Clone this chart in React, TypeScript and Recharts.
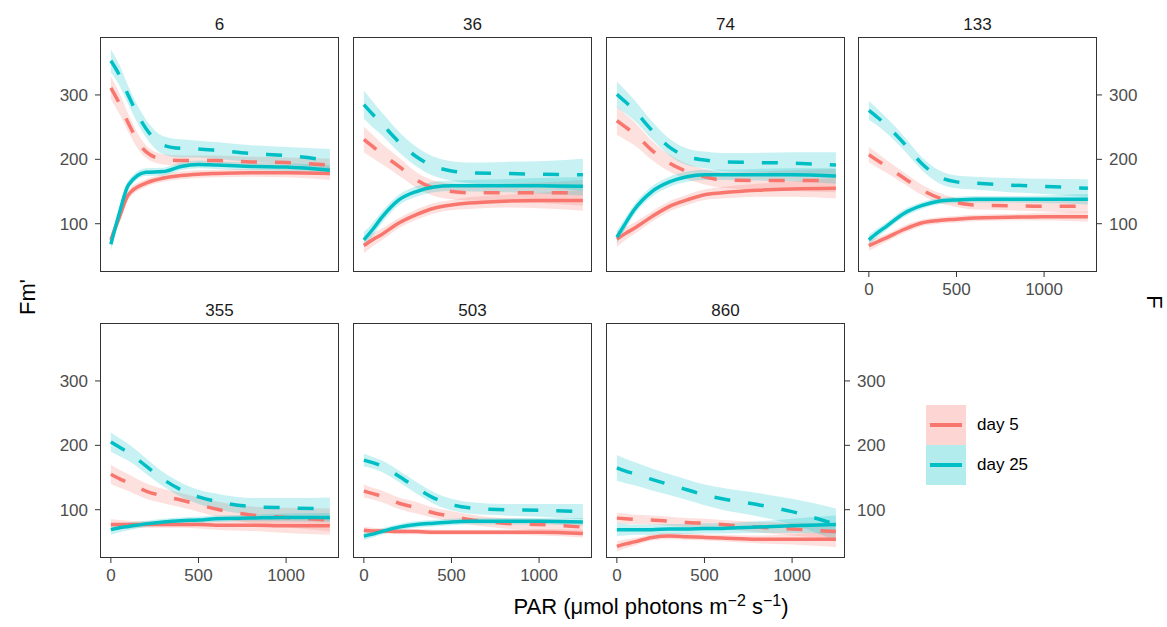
import { ComposedChart, Area, Line, XAxis, YAxis } from "recharts";

// PAR grid the smooths are read at
const PAR = [0, 50, 100, 200, 300, 400, 500, 600, 800, 1000, 1250];
const LIGHT = ["6", "36", "74", "133", "355", "503", "860"];
const X_TICKS = [0, 500, 1000];
const Y_TICKS = [100, 200, 300];

// dashed lines: Fm'
const fmDay5 = [
  [311, 286, 256, 212, 200, 198, 198, 198, 196, 195, 191],
  [231, 220, 209, 189, 168, 155, 150, 148, 148, 148, 148],
  [260, 250, 240, 214, 194, 181, 173, 168, 167, 167, 167],
  [207, 198, 189, 171, 153, 140, 133, 129, 128, 127, 127],
  [155, 148, 142, 129, 121, 115, 108, 101, 92, 88, 84],
  [129, 125, 121, 110, 103, 95, 90, 85, 79, 77, 73],
  [87, 86, 85, 84, 82, 80, 79, 77, 73, 70, 66],
];
const fmDay25 = [
  [353, 330, 299, 248, 222, 217, 216, 214, 209, 206, 198],
  [285, 270, 256, 227, 204, 189, 182, 179, 178, 177, 176],
  [301, 289, 276, 245, 219, 204, 199, 196, 195, 194, 191],
  [276, 265, 253, 225, 194, 173, 165, 163, 160, 158, 155],
  [205, 197, 189, 168, 147, 131, 120, 113, 105, 103, 101],
  [177, 173, 168, 152, 134, 118, 108, 103, 100, 99, 97],
  [165, 160, 156, 147, 139, 131, 123, 117, 108, 97, 77],
];
// solid lines: F
const fDay5 = [
  [75, 111, 145, 163, 171, 175, 177, 178, 179, 179, 178],
  [66, 75, 83, 101, 114, 124, 129, 132, 135, 136, 136],
  [76, 85, 93, 111, 127, 137, 145, 148, 152, 154, 155],
  [66, 72, 78, 91, 101, 105, 107, 109, 110, 111, 111],
  [77, 77, 77, 77, 77, 77, 77, 76, 76, 75, 75],
  [68, 67, 67, 66, 66, 65, 65, 65, 65, 65, 63],
  [43, 47, 50, 57, 59, 58, 57, 56, 54, 54, 54],
];
const fDay25 = [
  [68, 118, 160, 180, 181, 189, 192, 191, 189, 188, 183],
  [75, 91, 109, 137, 150, 157, 159, 159, 159, 159, 158],
  [79, 101, 122, 150, 165, 173, 176, 176, 176, 176, 174],
  [75, 86, 96, 116, 128, 135, 137, 138, 138, 138, 138],
  [69, 72, 74, 78, 81, 83, 84, 86, 87, 88, 88],
  [59, 62, 66, 73, 77, 79, 81, 82, 82, 82, 81],
  [69, 69, 69, 69, 70, 70, 71, 71, 73, 75, 77],
];

// half widths of the confidence ribbons
const fmDay5Ci = [
  [18, 16, 14, 10, 8, 8, 8, 8, 8, 8, 10],
  [20, 18, 16, 14, 12, 12, 12, 12, 14, 16, 20],
  [22, 20, 18, 15, 13, 12, 12, 12, 14, 16, 18],
  [12, 11, 10, 9, 8, 8, 7, 7, 7, 8, 10],
  [15, 14, 13, 12, 11, 11, 11, 12, 13, 15, 18],
  [10, 9, 9, 9, 9, 8, 8, 8, 8, 9, 10],
  [8, 8, 7, 7, 7, 7, 7, 7, 8, 10, 12],
];
const fmDay25Ci = [
  [18, 16, 14, 14, 14, 14, 13, 13, 13, 13, 18],
  [22, 20, 18, 16, 15, 15, 15, 16, 18, 20, 25],
  [20, 18, 16, 14, 13, 13, 13, 14, 15, 17, 20],
  [15, 13, 12, 11, 10, 10, 10, 10, 11, 12, 14],
  [15, 14, 13, 12, 11, 11, 11, 12, 13, 15, 18],
  [10, 9, 9, 9, 9, 9, 9, 9, 9, 10, 12],
  [20, 19, 18, 17, 16, 16, 16, 17, 18, 20, 25],
];
const fDay5Ci = [
  [10, 8, 7, 6, 6, 6, 6, 6, 6, 7, 10],
  [12, 10, 9, 8, 8, 8, 8, 9, 10, 12, 16],
  [12, 10, 9, 8, 8, 8, 8, 9, 10, 12, 16],
  [8, 7, 6, 6, 5, 5, 5, 5, 5, 6, 8],
  [8, 7, 6, 5, 5, 5, 6, 7, 9, 11, 14],
  [5, 5, 4, 4, 4, 4, 4, 4, 4, 5, 6],
  [8, 7, 6, 5, 5, 5, 5, 5, 6, 8, 12],
];
const fDay25Ci = [
  [10, 8, 7, 6, 6, 6, 6, 6, 6, 6, 8],
  [12, 10, 9, 8, 8, 8, 8, 9, 10, 12, 14],
  [10, 9, 8, 8, 8, 8, 8, 8, 9, 10, 12],
  [8, 7, 6, 6, 5, 5, 5, 5, 5, 6, 8],
  [8, 7, 6, 5, 5, 5, 5, 5, 5, 6, 7],
  [6, 5, 5, 5, 5, 5, 5, 5, 5, 5, 6],
  [10, 9, 8, 8, 8, 8, 8, 8, 9, 11, 14],
];

const RED = "#F8766D";
const TEAL = "#00BFC4";
const FONT = "'Liberation Sans', Arial, sans-serif";

const COL_X = [100, 353, 606, 858];
const ROW_Y = [37, 323];
const BOX_W = 239;
const BOX_H = 235;
const AXIS_W = 50;
const AXIS_H = 32;

function rowsFor(i: number) {
  return PAR.map((par, j) => ({
    par,
    fm5: fmDay5[i][j],
    fm25: fmDay25[i][j],
    f5: fDay5[i][j],
    f25: fDay25[i][j],
    fm5Ci: [fmDay5[i][j] - fmDay5Ci[i][j], fmDay5[i][j] + fmDay5Ci[i][j]],
    fm25Ci: [fmDay25[i][j] - fmDay25Ci[i][j], fmDay25[i][j] + fmDay25Ci[i][j]],
    f5Ci: [fDay5[i][j] - fDay5Ci[i][j], fDay5[i][j] + fDay5Ci[i][j]],
    f25Ci: [fDay25[i][j] - fDay25Ci[i][j], fDay25[i][j] + fDay25Ci[i][j]],
  }));
}

const tickStyle = { fontSize: 17, fill: "#4d4d4d", fontFamily: FONT };

function Panel({ i }: { i: number }) {
  const row = i < 4 ? 0 : 1;
  const col = i < 4 ? i : i - 4;
  const left = i === 0 || i === 4;
  const right = i === 3 || i === 6;
  const bottom = i >= 3;
  const w = BOX_W + (left ? AXIS_W : 0) + (right ? AXIS_W : 0);
  const h = BOX_H + (bottom ? AXIS_H : 0);
  const bx = COL_X[col];
  const by = ROW_Y[row];
  const data = rowsFor(i);

  return (
    <>
      <div
        style={{
          position: "absolute",
          left: bx,
          top: by - 30,
          width: BOX_W,
          textAlign: "center",
          fontSize: 17,
          color: "#1a1a1a",
          lineHeight: "36px",
        }}
      >
        {LIGHT[i]}
      </div>
      <div style={{ position: "absolute", left: bx - (left ? AXIS_W : 0), top: by }}>
        <ComposedChart width={w} height={h} data={data} margin={{ top: 0, right: 0, bottom: 0, left: 0 }}>
          <XAxis
            dataKey="par"
            type="number"
            domain={[-62, 1302]}
            ticks={X_TICKS}
            hide={!bottom}
            height={AXIS_H}
            axisLine={false}
            tickLine={{ stroke: "#333333" }}
            tickSize={5}
            tickMargin={6}
            tick={tickStyle}
            allowDataOverflow
          />
          <YAxis
            yAxisId="l"
            type="number"
            domain={[25, 390]}
            ticks={Y_TICKS}
            hide={!left}
            width={AXIS_W}
            axisLine={false}
            tickLine={{ stroke: "#333333" }}
            tickSize={5}
            tickMargin={7}
            tick={tickStyle}
            allowDataOverflow
          />
          {right && (
            <YAxis
              yAxisId="r"
              orientation="right"
              type="number"
              domain={[25, 390]}
              ticks={Y_TICKS}
              width={AXIS_W}
              axisLine={false}
              tickLine={{ stroke: "#333333" }}
              tickSize={5}
              tickMargin={7}
              tick={{ ...tickStyle, textAnchor: "start" }}
              allowDataOverflow
            />
          )}
          <Area yAxisId="l" dataKey="fm5Ci" type="monotone" stroke="none" fill={RED} fillOpacity={0.22} isAnimationActive={false} />
          <Area yAxisId="l" dataKey="fm25Ci" type="monotone" stroke="none" fill={TEAL} fillOpacity={0.22} isAnimationActive={false} />
          <Area yAxisId="l" dataKey="f5Ci" type="monotone" stroke="none" fill={RED} fillOpacity={0.22} isAnimationActive={false} />
          <Area yAxisId="l" dataKey="f25Ci" type="monotone" stroke="none" fill={TEAL} fillOpacity={0.22} isAnimationActive={false} />
          <Line yAxisId="l" dataKey="fm5" type="monotone" stroke={RED} strokeWidth={3.5} strokeDasharray="16 18" dot={false} isAnimationActive={false} />
          <Line yAxisId="l" dataKey="fm25" type="monotone" stroke={TEAL} strokeWidth={3.5} strokeDasharray="16 18" dot={false} isAnimationActive={false} />
          <Line yAxisId="l" dataKey="f5" type="monotone" stroke={RED} strokeWidth={3.5} dot={false} isAnimationActive={false} />
          <Line yAxisId="l" dataKey="f25" type="monotone" stroke={TEAL} strokeWidth={3.5} dot={false} isAnimationActive={false} />
        </ComposedChart>
      </div>
      <div
        style={{
          position: "absolute",
          left: bx,
          top: by,
          width: BOX_W,
          height: BOX_H,
          border: "1.3px solid #333333",
          boxSizing: "border-box",
          pointerEvents: "none",
        }}
      />
    </>
  );
}

function LegendKey({ color, label, top }: { color: string; label: string; top: number }) {
  return (
    <>
      <div style={{ position: "absolute", left: 926, top, width: 40, height: 40, background: color, opacity: 0.3 }} />
      <div style={{ position: "absolute", left: 930, top: top + 18, width: 32, height: 4, background: color }} />
      <div style={{ position: "absolute", left: 977, top, height: 40, lineHeight: "40px", fontSize: 17, color: "#000" }}>
        {label}
      </div>
    </>
  );
}

export default function App() {
  return (
    <div
      style={{
        position: "absolute",
        left: 0,
        top: 0,
        width: 1167,
        height: 627,
        background: "#fff",
        fontFamily: FONT,
      }}
    >
      {LIGHT.map((_, i) => (
        <Panel key={i} i={i} />
      ))}
      <div
        style={{
          position: "absolute",
          left: 28,
          top: 297,
          transform: "translate(-50%, -50%) rotate(-90deg)",
          fontSize: 22,
          whiteSpace: "nowrap",
        }}
      >
        Fm'
      </div>
      <div
        style={{
          position: "absolute",
          left: 1154,
          top: 302,
          transform: "translate(-50%, -50%) rotate(90deg)",
          fontSize: 22,
        }}
      >
        F
      </div>
      <div
        style={{
          position: "absolute",
          left: 651,
          top: 606,
          transform: "translate(-50%, -50%)",
          fontSize: 22,
          whiteSpace: "nowrap",
        }}
      >
        PAR (μmol photons m<sup style={{ fontSize: 16 }}>−2</sup> s<sup style={{ fontSize: 16 }}>−1</sup>)
      </div>
      <LegendKey color={RED} label="day 5" top={405} />
      <LegendKey color={TEAL} label="day 25" top={445} />
    </div>
  );
}
